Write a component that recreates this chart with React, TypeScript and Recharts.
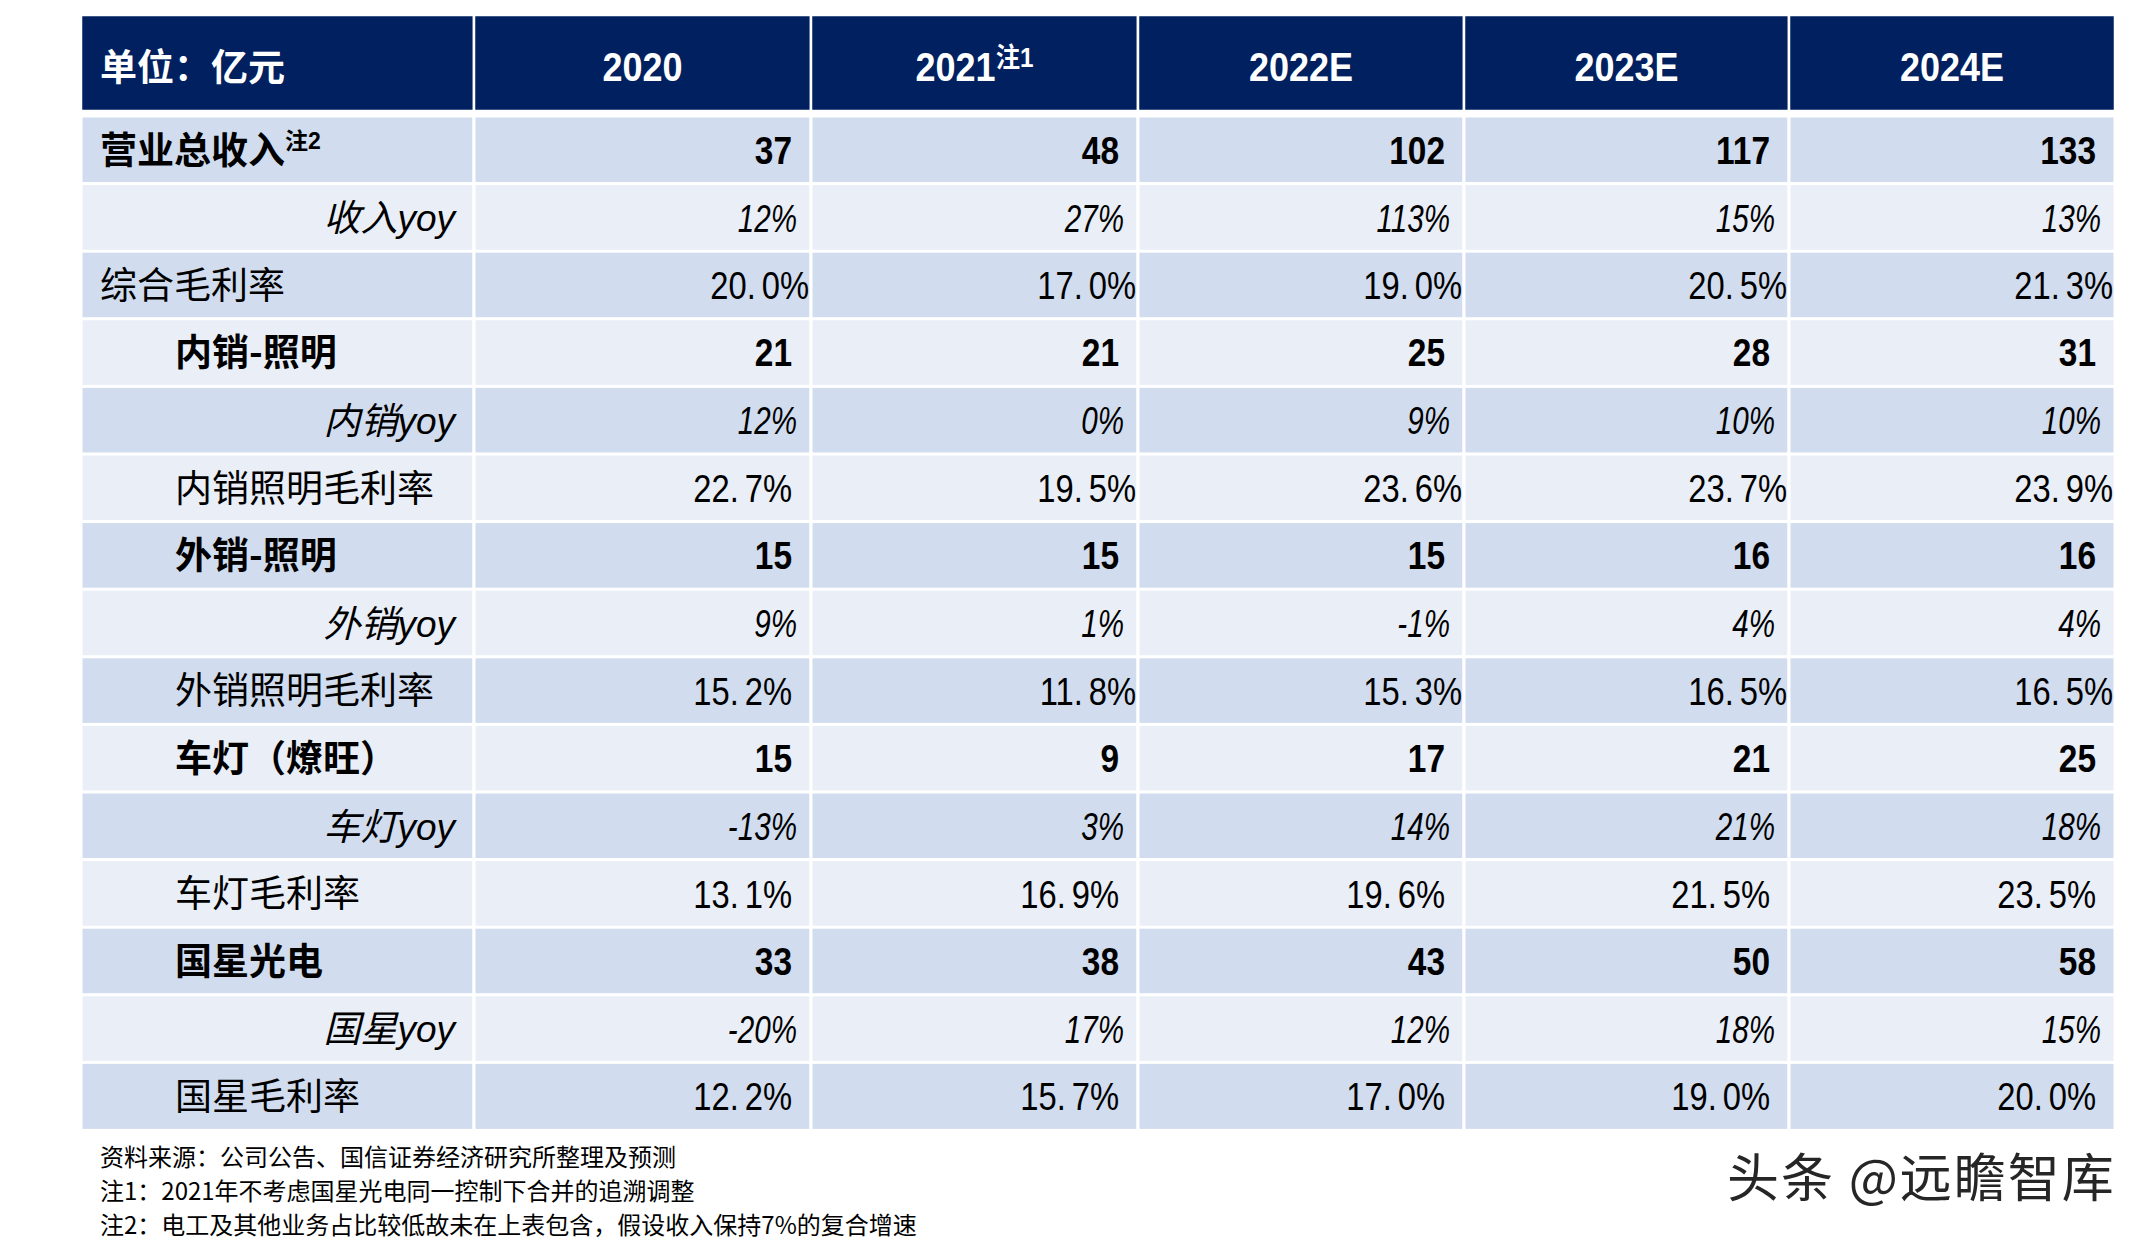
import React from 'react';
import { BarChart, Bar, XAxis, YAxis } from 'recharts';

const unitLabel = '单位：亿元';
const years = ['2020', '2021', '2022E', '2023E', '2024E'];
const yearNotes = ['', '注1', '', '', ''];

const rowLabels = [
  '营业总收入', '收入yoy', '综合毛利率',
  '内销-照明', '内销yoy', '内销照明毛利率',
  '外销-照明', '外销yoy', '外销照明毛利率',
  '车灯（燎旺）', '车灯yoy', '车灯毛利率',
  '国星光电', '国星yoy', '国星毛利率',
];
const rowNotes = ['注2', '', '', '', '', '', '', '', '', '', '', '', '', '', ''];
// rev = 收入(亿元), yoy = 同比(%), margin = 毛利率(%)
const rowKinds = [
  'rev', 'yoy', 'margin',
  'rev', 'yoy', 'margin',
  'rev', 'yoy', 'margin',
  'rev', 'yoy', 'margin',
  'rev', 'yoy', 'margin',
];

const totalRevenue = [37, 48, 102, 117, 133];
const totalYoy = [12, 27, 113, 15, 13];
const totalMargin = [20.0, 17.0, 19.0, 20.5, 21.3];
const domesticRevenue = [21, 21, 25, 28, 31];
const domesticYoy = [12, 0, 9, 10, 10];
const domesticMargin = [22.7, 19.5, 23.6, 23.7, 23.9];
const exportRevenue = [15, 15, 15, 16, 16];
const exportYoy = [9, 1, -1, 4, 4];
const exportMargin = [15.2, 11.8, 15.3, 16.5, 16.5];
const autoLampRevenue = [15, 9, 17, 21, 25];
const autoLampYoy = [-13, 3, 14, 21, 18];
const autoLampMargin = [13.1, 16.9, 19.6, 21.5, 23.5];
const nationstarRevenue = [33, 38, 43, 50, 58];
const nationstarYoy = [-20, 17, 12, 18, 15];
const nationstarMargin = [12.2, 15.7, 17.0, 19.0, 20.0];

const valueRows = [
  totalRevenue, totalYoy, totalMargin,
  domesticRevenue, domesticYoy, domesticMargin,
  exportRevenue, exportYoy, exportMargin,
  autoLampRevenue, autoLampYoy, autoLampMargin,
  nationstarRevenue, nationstarYoy, nationstarMargin,
];

const footnotes = [
  '资料来源：公司公告、国信证券经济研究所整理及预测',
  '注1：2021年不考虑国星光电同一控制下合并的追溯调整',
  '注2：电工及其他业务占比较低故未在上表包含，假设收入保持7%的复合增速',
];
const watermark = '头条 @远瞻智库';

// ---- layout / style ----
const W = 2156;
const H = 1240;
const LABEL_COL = 393; // column widths, in px of the plot
const YEAR_COLS = [337, 327, 326, 325, 326];
const TOTAL_UNITS = LABEL_COL + YEAR_COLS.reduce((a, b) => a + b, 0);
const NAVY = '#002060';
const ROW_DARK = '#D1DCEE';
const ROW_LIGHT = '#E9EEF7';
const CJK = "'Noto Sans CJK SC', 'Noto Sans', sans-serif";
const LATIN = "'Liberation Sans', Arial, 'Noto Sans CJK SC', sans-serif";
const MARGIN = { left: 81, right: W - 81 - TOTAL_UNITS };

const fmt = (kind: string, v: number) =>
  kind === 'rev' ? String(v) : kind === 'yoy' ? `${v}%` : `${v.toFixed(1)}%`;

const rows = rowLabels.map((label, i) => {
  const r: any = { label, note: rowNotes[i], kind: rowKinds[i], idx: i, span: LABEL_COL };
  years.forEach((_, c) => {
    r[`u${c}`] = YEAR_COLS[c];
    r[`t${c}`] = fmt(rowKinds[i], valueRows[i][c]);
  });
  return r;
});

const headRow: any = { label: unitLabel, span: LABEL_COL };
years.forEach((_, c) => { headRow[`u${c}`] = YEAR_COLS[c]; });

// margin rows in the source are not all aligned the same way
const flushRight = (row: number, col: number) => row === 2 || ((row === 5 || row === 8) && col > 0);

function BodyCell(props: any) {
  const { x, y, width, height, payload, col } = props;
  const row = payload.idx;
  const fill = row % 2 === 0 ? ROW_DARK : ROW_LIGHT;
  const cy = y + height / 2;
  const right = x + width;
  const kind = payload.kind;
  let text: React.ReactNode = null;

  if (col < 0) {
    const fs = 37;
    const base = cy + 0.37 * fs;
    if (kind === 'yoy') {
      text = (
        <text x={right - 19} y={base} textAnchor="end" fontFamily={LATIN} fontStyle="italic" fontSize={fs} fill="#000">
          {payload.label}
        </text>
      );
    } else {
      const indent = row < 3 ? 19 : 94;
      text = (
        <text x={x + indent} y={base} fontFamily={CJK} fontWeight={kind === 'rev' ? 700 : 400} fontSize={fs} fill="#000">
          {payload.label}
          {payload.note ? (
            <tspan fontSize={23} dy={-15} fontFamily={LATIN}>{payload.note}</tspan>
          ) : null}
        </text>
      );
    }
  } else {
    const value: string = payload[`t${col}`];
    if (kind === 'rev') {
      const fs = 38;
      text = (
        <text transform={`translate(${right - 19},${cy + 0.36 * fs}) scale(0.88,1)`} textAnchor="end"
          fontFamily={LATIN} fontWeight={700} fontSize={fs} fill="#000">{value}</text>
      );
    } else if (kind === 'yoy') {
      const fs = 39;
      text = (
        <text transform={`translate(${right - 14},${cy + 0.36 * fs}) scale(0.76,1)`} textAnchor="end"
          fontFamily={LATIN} fontStyle="italic" fontSize={fs} fill="#000">{value}</text>
      );
    } else {
      const fs = 39;
      const pad = flushRight(row, col) ? 2 : 19;
      const [intPart, decPart] = value.split('.');
      text = (
        <text transform={`translate(${right - pad},${cy + 0.36 * fs}) scale(0.84,1)`} textAnchor="end"
          fontFamily={LATIN} fontSize={fs} fill="#000">
          <tspan>{intPart}.</tspan>
          <tspan dx={7}>{decPart}</tspan>
        </text>
      );
    }
  }

  return (
    <g>
      <rect x={x} y={y} width={width} height={height} fill={fill} stroke="#fff" strokeWidth={3} />
      {text}
    </g>
  );
}

function HeadCell(props: any) {
  const { x, y, width, height, col } = props;
  const cy = y + height / 2 + 4;
  let text: React.ReactNode;
  if (col < 0) {
    text = (
      <text x={x + 19} y={cy + 0.37 * 37} fontFamily={CJK} fontWeight={700} fontSize={37} fill="#fff">
        {unitLabel}
      </text>
    );
  } else {
    const fs = 40;
    text = (
      <text transform={`translate(${x + width / 2},${cy + 0.36 * fs}) scale(0.9,1)`} textAnchor="middle"
        fontFamily={LATIN} fontWeight={700} fontSize={fs} fill="#fff">
        {years[col]}
        {yearNotes[col] ? <tspan fontSize={27} dy={-14}>{yearNotes[col]}</tspan> : null}
      </text>
    );
  }
  return (
    <g>
      <rect x={x} y={y} width={width} height={height} fill={NAVY} stroke="#fff" strokeWidth={2.5} />
      {text}
    </g>
  );
}

export default function App() {
  return (
    <div style={{ position: 'absolute', left: 0, top: 0, width: W, height: H, background: '#fff' }}>
      <div style={{ position: 'absolute', left: 0, top: 0 }}>
        <BarChart width={W} height={H} data={rows} layout="vertical" barCategoryGap={0}
          margin={{ top: 116, bottom: H - 1130, ...MARGIN }}>
          <XAxis type="number" hide domain={[0, TOTAL_UNITS]} />
          <YAxis type="category" dataKey="label" hide />
          <Bar dataKey="span" stackId="t" isAnimationActive={false} shape={(p: any) => <BodyCell {...p} col={-1} />} />
          {years.map((y, c) => (
            <Bar key={y} dataKey={`u${c}`} stackId="t" isAnimationActive={false}
              shape={(p: any) => <BodyCell {...p} col={c} />} />
          ))}
        </BarChart>
      </div>
      <div style={{ position: 'absolute', left: 0, top: 0 }}>
        <BarChart width={W} height={126} data={[headRow]} layout="vertical" barCategoryGap={0}
          margin={{ top: 15, bottom: 15, ...MARGIN }}>
          <XAxis type="number" hide domain={[0, TOTAL_UNITS]} />
          <YAxis type="category" dataKey="label" hide />
          <Bar dataKey="span" stackId="h" isAnimationActive={false} shape={(p: any) => <HeadCell {...p} col={-1} />} />
          {years.map((y, c) => (
            <Bar key={y} dataKey={`u${c}`} stackId="h" isAnimationActive={false}
              shape={(p: any) => <HeadCell {...p} col={c} />} />
          ))}
        </BarChart>
      </div>
      <div style={{ position: 'absolute', left: 100, top: 1139, fontFamily: CJK, fontSize: 24, lineHeight: '34px', color: '#000' }}>
        {footnotes.map((f) => <div key={f}>{f}</div>)}
      </div>
      <div style={{ position: 'absolute', left: 1727, top: 1141, fontFamily: CJK, fontSize: 52, lineHeight: '68px', color: '#262626', letterSpacing: 2, whiteSpace: 'nowrap' }}>
        {watermark}
      </div>
    </div>
  );
}
